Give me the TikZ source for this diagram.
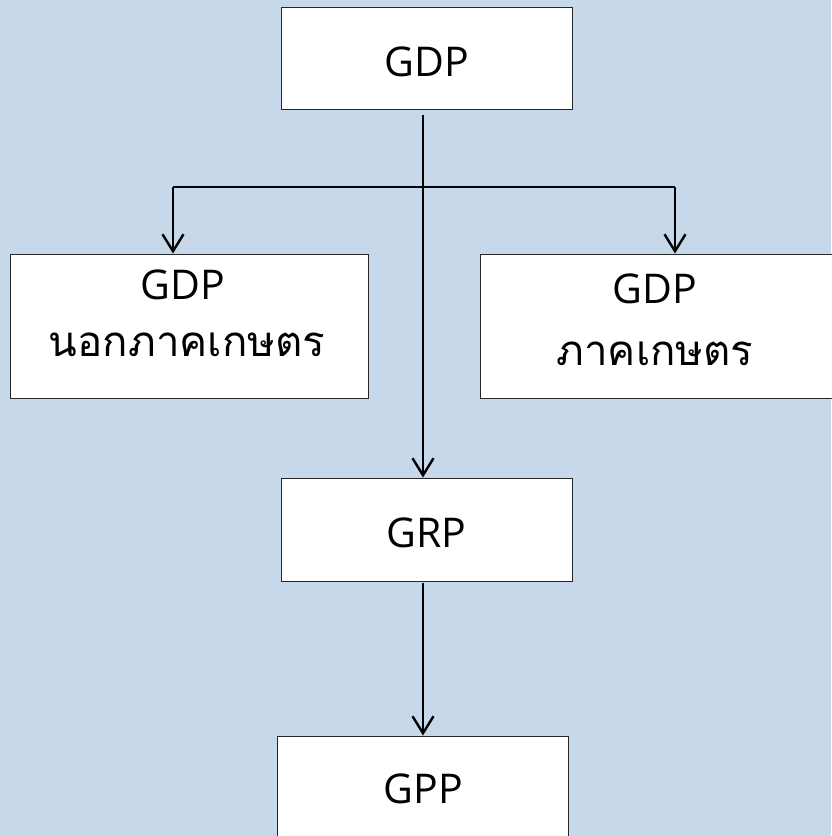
\documentclass[tikz,border=0pt]{standalone}
\usepackage{fontspec}
\setmainfont{Open Sans}
\newfontfamily\thaifont[Script=Thai]{Loma}
\usetikzlibrary{arrows.meta}
\definecolor{bgblue}{RGB}{198,216,233}
\begin{document}
\begin{tikzpicture}[x=1pt,y=-1pt,
  box/.style={draw=black!85, line width=1pt, fill=white, inner sep=0pt},
  lbl/.style={anchor=base, inner sep=0pt, font=\fontsize{41}{48}\selectfont},
  thai/.style={anchor=base, inner sep=0pt, font=\fontsize{42}{48}\selectfont\thaifont},
  link/.style={line width=2.4pt},
  arr/.style={line width=2.4pt, -{Straight Barb[length=17pt,width=21pt]}}]
\fill[bgblue] (0,0) rectangle (831,836);
\useasboundingbox (0,0) rectangle (831,836);
% boxes
\node[box, minimum width=291pt, minimum height=102pt] (gdp) at (426.5,58) {};
\node[box, minimum width=358pt, minimum height=144pt] (nonag) at (189,326) {};
\node[box, minimum width=352pt, minimum height=144pt] (ag) at (656,326) {};
\node[box, minimum width=291pt, minimum height=103pt] (grp) at (426.75,529.5) {};
\node[box, minimum width=291pt, minimum height=102pt] (gpp) at (422.5,787) {};
% texts
\node[lbl] (t1) at (426.5,76) {GDP};
\node[lbl] (t2a) at (183,299) {GDP};
\node[thai] (t2b) at (187,356) {นอกภาคเกษตร};
\node[lbl] (t3a) at (655,303) {GDP};
\node[thai] (t3b) at (655,365) {ภาคเกษตร};
\node[lbl] (t4) at (426.5,547) {GRP};
\node[lbl] (t5) at (423.5,803) {GPP};
% connectors
\coordinate (s) at (423,115);
\coordinate (jl) at (173,187);
\coordinate (jr) at (675,187);
\coordinate (g2) at (423,583);
\draw[arr] (s) -- (grp.north -| s);
\draw[link] (jl) -- (jr);
\draw[arr] (jl) -- (nonag.north -| jl);
\draw[arr] (jr) -- (ag.north -| jr);
\draw[arr] (g2) -- (gpp.north -| g2);
\end{tikzpicture}
\end{document}
